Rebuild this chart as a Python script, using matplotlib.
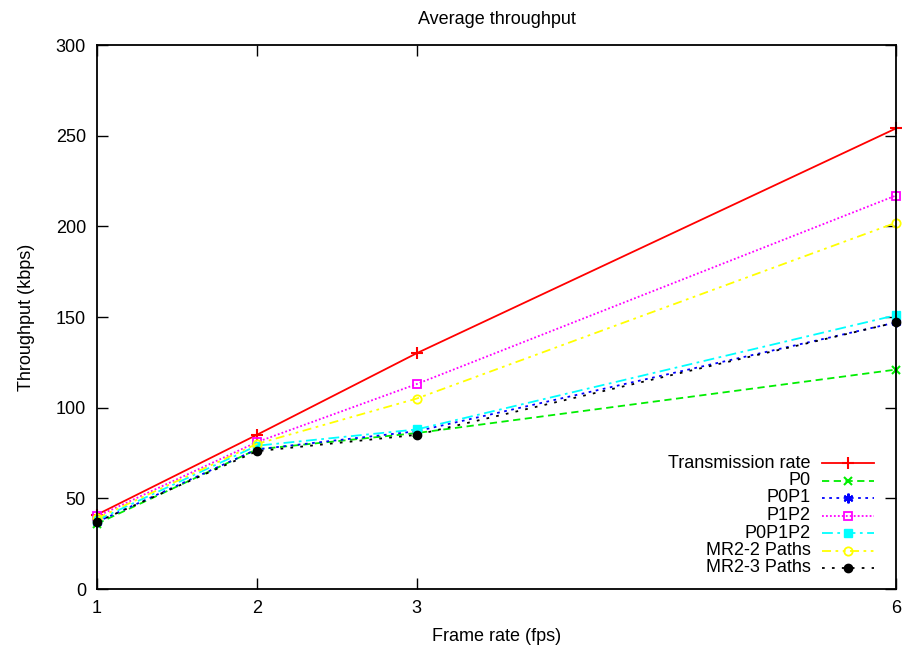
import matplotlib
matplotlib.use("Agg")
import matplotlib.pyplot as plt

plt.rcParams['font.family'] = ['Liberation Sans', 'DejaVu Sans']

frame_rate = [1, 2, 3, 6]
transmission_rate = [41, 85, 130, 254]
p0 = [36, 77, 86, 121]
p0p1 = [37, 77, 87, 147]
p1p2 = [40, 81, 113, 217]
p0p1p2 = [38, 79, 88, 151]
mr2_2 = [39, 80, 105, 202]
mr2_3 = [37, 76, 85, 147]

series = [
    ("Transmission rate", transmission_rate, dict(color='#ff0000', ls='-', marker='+', ms=8, mew=1.5)),
    ("P0", p0, dict(color='#00ee00', ls=(0, (4, 2.5)), marker='x', ms=6, mew=1.5)),
    ("P0P1", p0p1, dict(color='#0000ff', ls=(0, (1.5, 2.5)), marker=(6, 2, 0), ms=7, mew=1.5)),
    ("P1P2", p1p2, dict(color='#ff00ff', ls=(0, (1, 1.2)), marker='s', ms=6, mew=1.3, mfc='none')),
    ("P0P1P2", p0p1p2, dict(color='#00ffff', ls=(0, (6, 2.5, 1.5, 2.5)), marker='s', ms=6, mew=1.0)),
    ("MR2-2 Paths", mr2_2, dict(color='#ffff00', ls=(0, (5, 2.5, 1.5, 2.5, 1.5, 2.5)), marker='o', ms=6, mew=1.3, mfc='none')),
    ("MR2-3 Paths", mr2_3, dict(color='#000000', ls=(0, (1.5, 4)), marker='o', ms=6, mew=1.0)),
]

FS = 13

fig = plt.figure(figsize=(9.03, 6.49), dpi=100)
ax = fig.add_axes([97/903, 60/649, 799/903, 544/649])

for name, vals, st in series:
    ax.plot(frame_rate, vals, lw=1.3, clip_on=False, **st)

ax.set_xlim(1, 6)
ax.set_ylim(0, 300)
ax.set_xticks(frame_rate)
ax.set_xticklabels([str(v) for v in frame_rate])
ax.set_yticks(range(0, 301, 50))
ax.tick_params(direction='in', top=True, right=True, length=8, width=1, labelsize=FS, pad=8)
for s in ax.spines.values():
    s.set_linewidth(1.3)

ax.set_title("Average throughput", fontsize=FS, pad=15)
ax.set_xlabel("Frame rate (fps)", fontsize=FS, labelpad=8)
ax.set_ylabel("Throughput (kbps)", fontsize=FS, labelpad=15)

# Legend drawn gnuplot-style: right-aligned text followed by the sample
def ax_x(px):
    return (px - 97) / 799

def ax_y(py):
    return (589 - py) / 544

row_y = [463, 480.5, 498, 515.5, 533, 550.5, 568]
for (name, vals, st), py in zip(series, row_y):
    y = ax_y(py)
    ax.text(ax_x(811), y, name, transform=ax.transAxes, ha='right', va='center', fontsize=FS)
    st2 = dict(st)
    marker = st2.pop('marker')
    ms = st2.pop('ms')
    mew = st2.pop('mew')
    mfc = st2.pop('mfc', None)
    ax.plot([ax_x(822), ax_x(874)], [y, y], transform=ax.transAxes, lw=1.3, clip_on=False,
            color=st2['color'], ls=st2['ls'])
    kw = dict(marker=marker, ms=ms, mew=mew, color=st2['color'], ls='none')
    if mfc is not None:
        kw['mfc'] = mfc
    ax.plot([ax_x(848)], [y], transform=ax.transAxes, clip_on=False, **kw)

fig.savefig("out.png", dpi=100)
